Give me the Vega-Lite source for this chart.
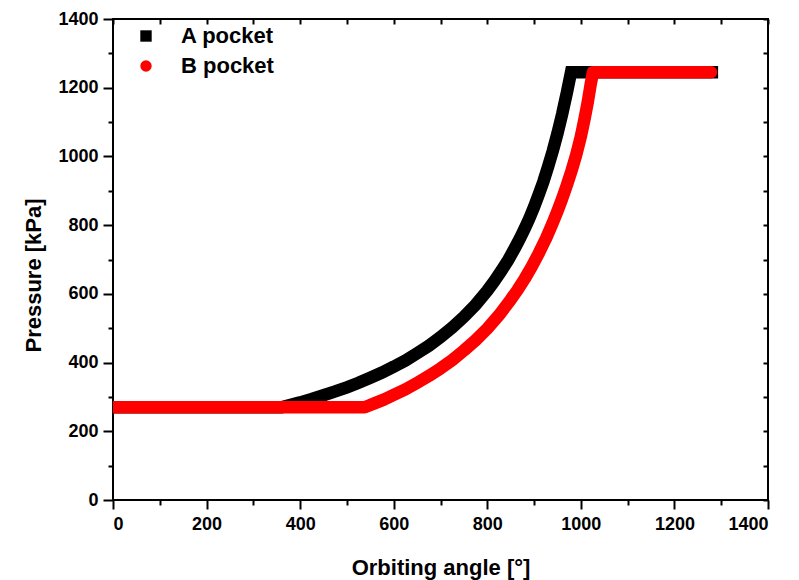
{
  "$schema": "https://vega.github.io/schema/vega-lite/v6.json",
  "width": 655,
  "height": 481,
  "autosize": "none",
  "padding": {"left": 113, "top": 19, "right": 31, "bottom": 80},
  "background": "white",
  "config": {
    "font": "Liberation Sans",
    "view": {"stroke": "black", "strokeWidth": 2},
    "axis": {"grid": false, "domainColor": "black", "tickColor": "black", "domainWidth": 2, "tickWidth": 2, "labelColor": "black", "titleColor": "black"}
  },
  "datasets": {
    "curves": [
      {"series": "A pocket", "angle": 0, "pressure": 270},
      {"series": "A pocket", "angle": 360, "pressure": 270},
      {"series": "A pocket", "angle": 380, "pressure": 277},
      {"series": "A pocket", "angle": 400, "pressure": 284},
      {"series": "A pocket", "angle": 425, "pressure": 294},
      {"series": "A pocket", "angle": 450, "pressure": 305},
      {"series": "A pocket", "angle": 475, "pressure": 316},
      {"series": "A pocket", "angle": 500, "pressure": 328},
      {"series": "A pocket", "angle": 525, "pressure": 341},
      {"series": "A pocket", "angle": 550, "pressure": 356},
      {"series": "A pocket", "angle": 575, "pressure": 371},
      {"series": "A pocket", "angle": 600, "pressure": 388},
      {"series": "A pocket", "angle": 625, "pressure": 406},
      {"series": "A pocket", "angle": 650, "pressure": 427},
      {"series": "A pocket", "angle": 675, "pressure": 449},
      {"series": "A pocket", "angle": 700, "pressure": 474},
      {"series": "A pocket", "angle": 725, "pressure": 502},
      {"series": "A pocket", "angle": 750, "pressure": 533},
      {"series": "A pocket", "angle": 775, "pressure": 568},
      {"series": "A pocket", "angle": 800, "pressure": 609},
      {"series": "A pocket", "angle": 815, "pressure": 637},
      {"series": "A pocket", "angle": 830, "pressure": 667},
      {"series": "A pocket", "angle": 845, "pressure": 699},
      {"series": "A pocket", "angle": 860, "pressure": 736},
      {"series": "A pocket", "angle": 870, "pressure": 762},
      {"series": "A pocket", "angle": 880, "pressure": 790},
      {"series": "A pocket", "angle": 890, "pressure": 820},
      {"series": "A pocket", "angle": 900, "pressure": 853},
      {"series": "A pocket", "angle": 910, "pressure": 889},
      {"series": "A pocket", "angle": 920, "pressure": 927},
      {"series": "A pocket", "angle": 930, "pressure": 970},
      {"series": "A pocket", "angle": 940, "pressure": 1016},
      {"series": "A pocket", "angle": 950, "pressure": 1067},
      {"series": "A pocket", "angle": 960, "pressure": 1123},
      {"series": "A pocket", "angle": 970, "pressure": 1185},
      {"series": "A pocket", "angle": 979, "pressure": 1245},
      {"series": "A pocket", "angle": 1280, "pressure": 1245},
      {"series": "B pocket", "angle": 0, "pressure": 270},
      {"series": "B pocket", "angle": 538, "pressure": 270},
      {"series": "B pocket", "angle": 560, "pressure": 282},
      {"series": "B pocket", "angle": 580, "pressure": 293},
      {"series": "B pocket", "angle": 600, "pressure": 306},
      {"series": "B pocket", "angle": 625, "pressure": 322},
      {"series": "B pocket", "angle": 650, "pressure": 341},
      {"series": "B pocket", "angle": 675, "pressure": 361},
      {"series": "B pocket", "angle": 700, "pressure": 383},
      {"series": "B pocket", "angle": 725, "pressure": 407},
      {"series": "B pocket", "angle": 750, "pressure": 435},
      {"series": "B pocket", "angle": 775, "pressure": 465},
      {"series": "B pocket", "angle": 800, "pressure": 499},
      {"series": "B pocket", "angle": 825, "pressure": 538},
      {"series": "B pocket", "angle": 850, "pressure": 583},
      {"series": "B pocket", "angle": 865, "pressure": 612},
      {"series": "B pocket", "angle": 880, "pressure": 644},
      {"series": "B pocket", "angle": 895, "pressure": 679},
      {"series": "B pocket", "angle": 910, "pressure": 718},
      {"series": "B pocket", "angle": 925, "pressure": 760},
      {"series": "B pocket", "angle": 940, "pressure": 807},
      {"series": "B pocket", "angle": 950, "pressure": 841},
      {"series": "B pocket", "angle": 960, "pressure": 877},
      {"series": "B pocket", "angle": 970, "pressure": 916},
      {"series": "B pocket", "angle": 980, "pressure": 958},
      {"series": "B pocket", "angle": 990, "pressure": 1004},
      {"series": "B pocket", "angle": 1000, "pressure": 1058},
      {"series": "B pocket", "angle": 1008, "pressure": 1110},
      {"series": "B pocket", "angle": 1015, "pressure": 1160},
      {"series": "B pocket", "angle": 1021, "pressure": 1210},
      {"series": "B pocket", "angle": 1026, "pressure": 1245},
      {"series": "B pocket", "angle": 1278, "pressure": 1245}
    ]
  },
  "data": {"name": "curves"},
  "resolve": {"axis": {"x": "independent", "y": "independent"}},
  "layer": [
    {
      "transform": [{"filter": "datum.series === 'A pocket'"}],
      "mark": {"type": "line", "color": "black", "strokeWidth": 12.5, "strokeCap": "square", "strokeJoin": "miter", "clip": true},
      "encoding": {
        "x": {"field": "angle", "type": "quantitative", "scale": {"domain": [0, 1400], "nice": false, "zero": false},
          "axis": {"orient": "bottom", "values": [0, 200, 400, 600, 800, 1000, 1200, 1400], "format": "d", "tickSize": 9, "labelFontSize": 18, "labelFontWeight": "bold", "labelPadding": 6, "domain": false,
            "title": "Orbiting angle [°]", "titleFontSize": 22, "titleFontWeight": "bold", "titlePadding": 24}},
        "y": {"field": "pressure", "type": "quantitative", "scale": {"domain": [0, 1400], "nice": false, "zero": false},
          "axis": {"orient": "left", "values": [0, 200, 400, 600, 800, 1000, 1200, 1400], "format": "d", "tickSize": 10, "labelFontSize": 18, "labelFontWeight": "bold", "labelPadding": 5, "domain": false,
            "title": "Pressure [kPa]", "titleFontSize": 22, "titleFontWeight": "bold", "titleAngle": -90, "titleX": -80, "titleY": 256, "titleAlign": "center", "titleBaseline": "middle"}}
      }
    },
    {
      "transform": [{"filter": "datum.series === 'B pocket'"}],
      "mark": {"type": "line", "color": "#ff0000", "strokeWidth": 12.5, "strokeCap": "round", "strokeJoin": "round", "clip": true},
      "encoding": {
        "x": {"field": "angle", "type": "quantitative", "axis": null},
        "y": {"field": "pressure", "type": "quantitative", "axis": null}
      }
    },
    {
      "mark": {"type": "point", "filled": true, "opacity": 0},
      "encoding": {
        "x": {"field": "angle", "type": "quantitative",
          "axis": {"orient": "bottom", "values": [100, 300, 500, 700, 900, 1100, 1300], "tickSize": 5, "labels": false, "domain": false, "title": null}},
        "y": {"field": "pressure", "type": "quantitative",
          "axis": {"orient": "left", "values": [100, 300, 500, 700, 900, 1100, 1300], "tickSize": 5, "labels": false, "domain": false, "title": null}},
        "color": {"field": "series", "type": "nominal", "scale": {"domain": ["A pocket", "B pocket"], "range": ["black", "#ff0000"]},
          "legend": {"orient": "none", "legendX": 22, "legendY": 6, "title": null, "symbolSize": 130, "labelFontSize": 22, "labelFontWeight": "bold", "labelOffset": 24, "rowPadding": 8, "symbolStrokeWidth": 0,
            "encode": {"symbols": {"update": {"opacity": {"value": 1}, "fillOpacity": {"value": 1}}}}}},
        "shape": {"field": "series", "type": "nominal", "scale": {"domain": ["A pocket", "B pocket"], "range": ["square", "circle"]}}
      }
    },
    {
      "mark": {"type": "point", "opacity": 0},
      "encoding": {
        "x": {"field": "angle", "type": "quantitative",
          "axis": {"orient": "top", "values": [0, 100, 200, 300, 400, 500, 600, 700, 800, 900, 1000, 1100, 1200, 1300, 1400], "tickSize": -5, "labels": false, "domain": false, "title": null}},
        "y": {"field": "pressure", "type": "quantitative",
          "axis": {"orient": "right", "values": [0, 100, 200, 300, 400, 500, 600, 700, 800, 900, 1000, 1100, 1200, 1300, 1400], "tickSize": -5, "labels": false, "domain": false, "title": null}}
      }
    }
  ]
}
